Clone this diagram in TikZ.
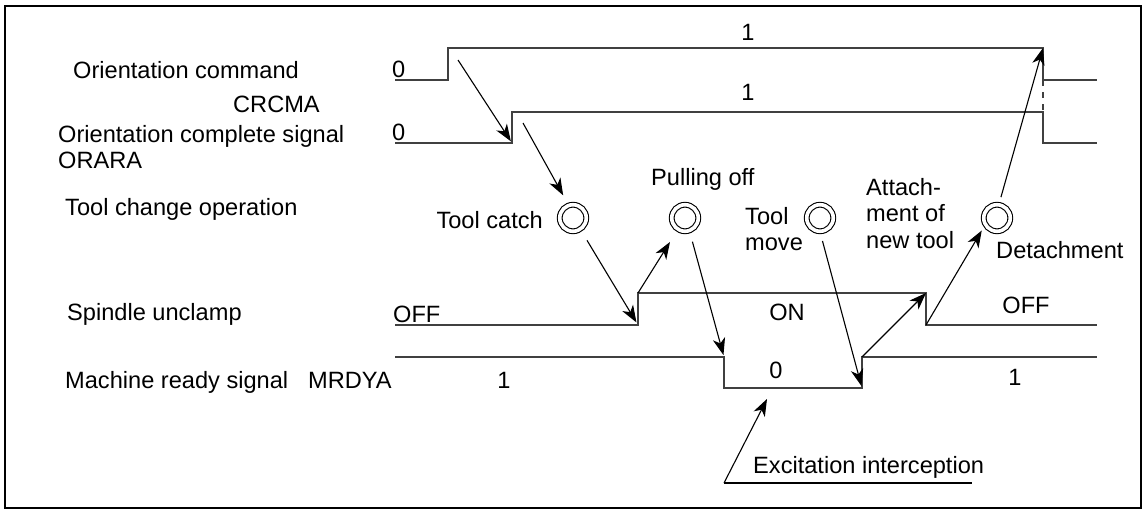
\documentclass[tikz,border=0pt]{standalone}
\usepackage{fontspec}
\setmainfont{Liberation Sans}
\usetikzlibrary{arrows.meta}
\begin{document}
\begin{tikzpicture}[x=1pt,y=-1pt,
  sig/.style={line width=2pt, draw=black!75},
  arr/.style={-{Stealth[length=17pt,width=12.5pt,inset=5pt]}, line width=1.1pt},
  ring/.style={circle, draw, double, line width=1.1pt, double distance=3.6pt, minimum size=26.5pt, inner sep=0pt},
  lbl/.style={inner sep=0pt, font=\fontsize{23.6}{26.5}\selectfont},
  every node/.append style={lbl}]
\useasboundingbox (0,0) rectangle (1146,522);
\draw[line width=2pt] (5,6) rectangle (1141,508);

% coordinates of signal corners
\coordinate (c0) at (395,80);
\coordinate (c1) at (448,80);
\coordinate (c2) at (448,48);
\coordinate (c3) at (1043,48);
\coordinate (c4) at (1043,80);
\coordinate (c5) at (1097,80);
\coordinate (o0) at (395,143);
\coordinate (o1) at (512,143);
\coordinate (o2) at (512,112);
\coordinate (o3) at (1043,112);
\coordinate (o4) at (1043,143);
\coordinate (o5) at (1097,143);
\coordinate (s0) at (395,325);
\coordinate (s1) at (638,325);
\coordinate (s2) at (638,293);
\coordinate (s3) at (926,293);
\coordinate (s4) at (926,325);
\coordinate (s5) at (1097,325);
\coordinate (m0) at (395,357);
\coordinate (m1) at (724,357);
\coordinate (m2) at (724,388);
\coordinate (m3) at (862,388);
\coordinate (m4) at (862,357);
\coordinate (m5) at (1097,357);

% signals
\draw[sig] (c0) -- (c1) -- (c2) -- (c3) -- (c4) -- (c5);
\draw[sig, dash pattern=on 6pt off 6pt] (c4) -- (o3);
\draw[sig] (o0) -- (o1) -- (o2) -- (o3) -- (o4) -- (o5);
\draw[sig] (s0) -- (s1) -- (s2) -- (s3) -- (s4) -- (s5);
\draw[sig] (m0) -- (m1) -- (m2) -- (m3) -- (m4) -- (m5);

% left labels
\node[anchor=base west] (lbOC) at (73,78) {Orientation command};
\node[anchor=base west] (lbCR) at (233,112) {CRCMA};
\node[anchor=north west, align=left] (lbOR) at (58,125) {Orientation complete signal\\ORARA};
\node[anchor=base west] (lbTC) at (65,215) {Tool change operation};
\node[anchor=base west] (lbSU) at (67,320) {Spindle unclamp};
\node[anchor=base west] (lbMR) at (65,388) {Machine ready signal};
\node[anchor=base west] (lbMD) at (308,388) {MRDYA};

% level labels
\node[anchor=base west] (v1) at (392,77) {0};
\node[anchor=base west] (v2) at (392,140) {0};
\node[anchor=base] (v3) at (748,40) {1};
\node[anchor=base] (v4) at (748,100) {1};
\node[anchor=base west] (v5) at (393,322) {OFF};
\node[anchor=base] (v6) at (787,320) {ON};
\node[anchor=base] (v7) at (1026,313) {OFF};
\node[anchor=base] (v8) at (504,388) {1};
\node[anchor=base] (v9) at (776,378) {0};
\node[anchor=base] (v10) at (1015,385) {1};

% operation rings
\node[ring] (tc) at (573,218) {};
\node[ring] (po) at (685,218) {};
\node[ring] (tm) at (820,218) {};
\node[ring] (dt) at (997,218) {};
\node[anchor=base east] (ltc) at (543,228) {Tool catch};
\node[anchor=base west] (lpo) at (651,185) {Pulling off};
\node[anchor=north west, align=left] (ltm) at (745,207) {Tool\\move};
\node[anchor=north west, align=left] (lat) at (866,178) {Attach-\\ment of\\new tool};
\node[anchor=base west] (ldt) at (996,258) {Detachment};

% arrows
\coordinate (a1) at (458,60);
\coordinate (a2) at (523,123);
\draw[arr, shorten >=2pt] (a1) -- (o1);
\draw[arr, shorten >=11pt] (a2) -- (tc.109);
\draw[arr, shorten <=12.5pt, shorten >=3pt] (tc.-57) -- (s1);
\draw[arr, shorten >=14.5pt] (s2) -- (po.238);
\draw[arr, shorten <=11pt, shorten >=2pt] (po.-71) -- (m1);
\draw[arr, shorten <=9.5pt, shorten >=2pt] (tm.-90) -- (m3);
\draw[arr] (m4) -- (s3);
\draw[arr, shorten >=6.5pt] (s4) -- (dt.210);
\draw[arr, shorten <=7.5pt] (dt.82) -- (c3);

% excitation interception
\coordinate (e0) at (724,483);
\coordinate (e1) at (972,483);
\coordinate (e2) at (767,399);
\draw[line width=1.1pt] (e0) -- (e1);
\draw[arr] (e0) -- (e2);
\node[anchor=base west] (lex) at (753,473) {Excitation interception};
\end{tikzpicture}
\end{document}
